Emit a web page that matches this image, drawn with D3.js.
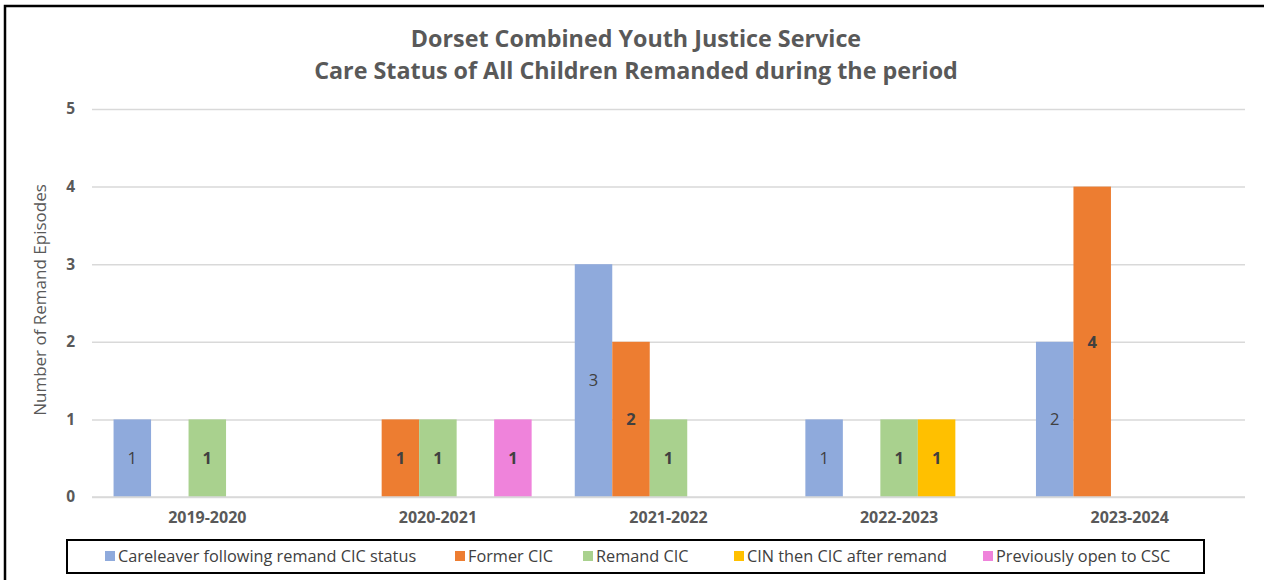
<!DOCTYPE html>
<html>
<head>
<meta charset="utf-8">
<script src="https://cdn.jsdelivr.net/npm/d3@7"></script>
<style>
  html, body { margin: 0; padding: 0; background: #fff; }
  svg { display: block; }
  text { font-family: "Open Sans", "Noto Sans", sans-serif; }
</style>
</head>
<body>
<svg id="chart" width="1264" height="580"></svg>
<script>
// ---- data ----
const categories = ["2019-2020", "2020-2021", "2021-2022", "2022-2023", "2023-2024"];
const seriesNames = ["Careleaver following remand CIC status", "Former CIC", "Remand CIC", "CIN then CIC after remand", "Previously open to CSC"];
const careleaverValues = [1, null, 3, 1, 2];
const formerCICValues = [null, 1, 2, null, 4];
const remandCICValues = [1, 1, 1, 1, null];
const cinThenCICValues = [null, null, null, 1, null];
const previouslyOpenValues = [null, 1, null, null, null];
const yTickValues = [0, 1, 2, 3, 4, 5];
const titleLines = ["Dorset Combined Youth Justice Service", "Care Status of All Children Remanded during the period"];
const yAxisTitle = "Number of Remand Episodes";

// ---- styling / layout ----
const seriesValues = [careleaverValues, formerCICValues, remandCICValues, cinThenCICValues, previouslyOpenValues];
const colors = ["#8FAADC", "#ED7D31", "#A9D18E", "#FFC000", "#EF83DB"];
const labelBold = [false, true, true, true, true];
const legendX = [105, 455, 583, 734, 983];

const svg = d3.select("#chart");

// outer frame (open on right/bottom like the crop)
svg.append("path")
  .attr("d", "M5,582 L5,6 L1266,6")
  .attr("fill", "none").attr("stroke", "#000").attr("stroke-width", 2.5);

const x0 = d3.scaleBand().domain(categories).range([92, 1245]).paddingInner(0).paddingOuter(0);
const x1 = d3.scaleBand().domain(d3.range(seriesNames.length)).range([0, x0.bandwidth()]).paddingInner(0).paddingOuter(0.575);
const y = d3.scaleLinear().domain([0, 5]).range([497, 109]);

// gridlines
const grid = d3.axisLeft(y).tickValues(yTickValues).tickSize(-(1245 - 92)).tickFormat("");
const gg = svg.append("g").attr("transform", "translate(92,0)").call(grid);
gg.select(".domain").remove();
gg.selectAll("line").attr("stroke", "#D9D9D9").attr("stroke-width", 1.5);

// y tick labels
const yAxis = d3.axisLeft(y).tickValues(yTickValues).tickSize(0).tickPadding(0).tickFormat(d3.format("d"));
const ya = svg.append("g").attr("transform", "translate(75,0)").call(yAxis);
ya.select(".domain").remove();
ya.selectAll("text").attr("font-family", "Open Sans").attr("font-size", 15.5).attr("font-weight", "bold").attr("fill", "#595959");

// x axis labels
const xAxis = d3.axisBottom(x0).tickSize(0).tickPadding(0);
const xa = svg.append("g").attr("transform", "translate(0,512)").call(xAxis);
xa.select(".domain").remove();
xa.selectAll("text").attr("font-family", "Open Sans").attr("font-size", 16).attr("font-weight", "bold").attr("fill", "#595959");

// bars
const barData = [];
categories.forEach((c, ci) => {
  seriesValues.forEach((vals, si) => {
    if (vals[ci] != null) barData.push({ c, si, v: vals[ci] });
  });
});

svg.append("g").selectAll("rect").data(barData).join("rect")
  .attr("x", d => x0(d.c) + x1(d.si))
  .attr("width", x1.bandwidth())
  .attr("y", d => y(d.v))
  .attr("height", d => y(0) - y(d.v))
  .attr("fill", d => colors[d.si]);

// zero baseline
svg.append("line").attr("x1", 92).attr("x2", 1245).attr("y1", y(0)).attr("y2", y(0))
  .attr("stroke", "#D9D9D9").attr("stroke-width", 1.5);

// data labels
svg.append("g").selectAll("text").data(barData).join("text")
  .attr("x", d => x0(d.c) + x1(d.si) + x1.bandwidth() / 2)
  .attr("y", d => (y(d.v) + y(0)) / 2)
  .attr("dy", "0.35em")
  .attr("text-anchor", "middle")
  .attr("font-size", 16.5)
  .attr("font-weight", d => labelBold[d.si] ? "bold" : "normal")
  .attr("fill", "#404040")
  .text(d => d.v);

// title
svg.append("g").selectAll("text").data(titleLines).join("text")
  .attr("x", 636)
  .attr("y", (d, i) => 39 + i * 32)
  .attr("dy", "0.35em")
  .attr("text-anchor", "middle")
  .attr("font-size", 23.3)
  .attr("font-weight", "bold")
  .attr("fill", "#595959")
  .text(d => d);

// y axis title
svg.append("text")
  .attr("transform", "translate(40," + ((y(0) + y(5)) / 2 - 3) + ") rotate(-90)")
  .attr("dy", "0.35em")
  .attr("text-anchor", "middle")
  .attr("font-size", 17)
  .attr("fill", "#595959")
  .text(yAxisTitle);

// legend
svg.append("rect").attr("x", 67).attr("y", 540).attr("width", 1204 - 67).attr("height", 33)
  .attr("fill", "#fff").attr("stroke", "#000").attr("stroke-width", 2);
const lg = svg.append("g").selectAll("g").data(seriesNames).join("g")
  .attr("transform", (d, i) => "translate(" + legendX[i] + ",556)");
lg.append("rect").attr("x", 0).attr("y", -5).attr("width", 10).attr("height", 10)
  .attr("fill", (d, i) => colors[i]);
lg.append("text").attr("x", 13).attr("dy", "0.35em")
  .attr("font-size", 16.3).attr("fill", "#404040").text(d => d);
</script>
</body>
</html>
